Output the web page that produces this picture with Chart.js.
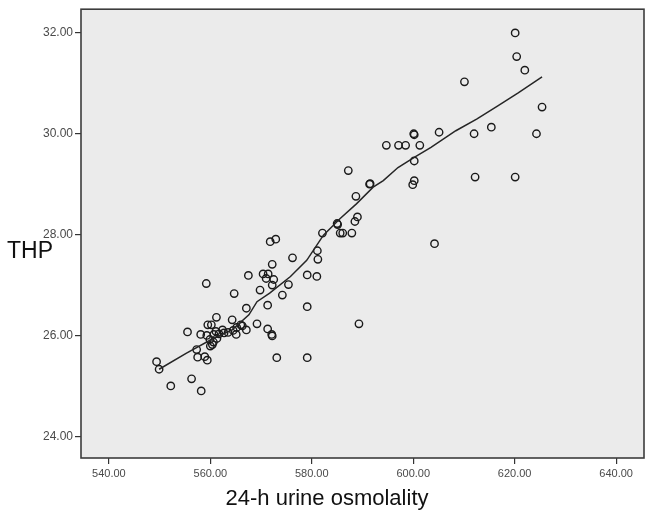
<!DOCTYPE html>
<html>
<head>
<meta charset="utf-8">
<script src="https://cdn.jsdelivr.net/npm/chart.js@4/dist/chart.umd.min.js"></script>
<style>
html,body{margin:0;padding:0;background:#fff;}
#wrap{width:650px;height:517px;position:relative;}
</style>
</head>
<body>
<div id="wrap"><canvas id="c" width="650" height="517"></canvas></div>
<script>
// ---- data ----
const osmolality = [549.4,549.9,552.2,555.5,556.3,558.2,557.3,557.5,558.9,559.4,559.2,558.1,559.5,560.2,561.2,559.3,559.9,560.0,560.6,560.4,561.3,560.7,561.1,561.7,562.4,562.7,563.5,564.3,564.5,564.7,565.1,565.2,566.0,566.3,567.1,567.1,567.5,569.2,569.8,570.4,571.0,571.4,571.3,571.3,571.8,572.9,572.2,572.5,572.2,572.1,572.2,573.1,574.2,575.4,576.2,579.1,579.1,579.1,581.0,581.1,581.2,582.1,585.0,585.1,585.6,586.1,587.9,588.5,589.0,588.7,587.2,589.3,591.4,591.5,594.7,597.1,598.5,601.3,600.1,600.2,600.2,600.2,599.9,604.2,605.1,610.1,612.0,612.2,615.4,620.1,620.4,622.0,620.1,624.3,625.4];
const thp = [25.48,25.33,25.00,26.07,25.14,24.90,25.72,25.57,25.58,25.51,27.03,26.02,26.21,26.21,26.36,26.00,25.92,25.79,25.87,25.82,25.94,26.02,26.08,26.03,26.11,26.05,26.06,26.31,26.10,26.83,26.02,26.16,26.21,26.19,26.54,26.11,27.19,26.23,26.90,27.22,27.13,27.22,26.60,26.13,27.86,27.91,27.41,27.11,27.00,26.02,25.99,25.56,26.80,27.01,27.54,26.57,27.20,25.56,27.17,27.68,27.51,28.03,28.22,28.20,28.03,28.03,28.03,28.26,28.35,28.76,29.27,26.23,29.00,29.01,29.77,29.77,29.77,29.77,30.00,29.98,29.46,29.07,28.99,27.82,30.03,31.03,30.00,29.14,30.13,32.00,31.53,31.26,29.14,30.00,30.53];
const fitX = [549.9,555.3,560.2,564.3,567.6,569.2,571.7,575.8,579.0,582.3,585.6,588.8,592.1,594.1,597.0,600.2,603.5,608.4,612.5,616.6,620.7,625.4];
const fitY = [25.33,25.65,25.92,26.11,26.41,26.67,26.84,27.17,27.49,27.99,28.32,28.61,28.94,29.07,29.33,29.53,29.73,30.06,30.29,30.55,30.81,31.13];
const xTickValues = [540,560,580,600,620,640];
const yTickValues = [24,26,28,30,32];
const xTitle = '24-h urine osmolality';
const yTitle = 'THP';

const FONT = "'Liberation Sans', Arial, sans-serif";

const points = osmolality.map((x,i)=>({x:x, y:thp[i]}));
const fit = fitX.map((x,i)=>({x:x, y:fitY[i]}));

const framePlugin = {
  id:'frame',
  beforeDraw(chart){
    const {ctx, chartArea:a} = chart;
    ctx.save();
    ctx.fillStyle = '#ffffff';
    ctx.fillRect(0,0,chart.width,chart.height);
    ctx.fillStyle = '#ebebeb';
    ctx.fillRect(a.left,a.top,a.right-a.left,a.bottom-a.top);
    ctx.restore();
  },
  afterDraw(chart){
    const {ctx, chartArea:a} = chart;
    ctx.save();
    ctx.strokeStyle = '#3c3c3c';
    ctx.lineWidth = 1.6;
    ctx.strokeRect(a.left,a.top,a.right-a.left,a.bottom-a.top);
    ctx.fillStyle = '#111';
    ctx.font = '22px ' + FONT;
    ctx.textAlign = 'center';
    ctx.textBaseline = 'alphabetic';
    ctx.fillText(xTitle, 327, 505);
    ctx.font = '23px ' + FONT;
    ctx.textAlign = 'left';
    ctx.textBaseline = 'middle';
    ctx.fillText(yTitle, 7, 252);
    ctx.restore();
  }
};

new Chart(document.getElementById('c'), {
  type:'scatter',
  data:{
    datasets:[
      {
        type:'line',
        data:fit,
        borderColor:'#262626',
        borderWidth:1.5,
        pointRadius:0,
        fill:false,
        tension:0
      },
      {
        type:'scatter',
        data:points,
        pointStyle:'circle',
        pointRadius:3.7,
        borderColor:'#1a1a1a',
        borderWidth:1.4,
        backgroundColor:'rgba(0,0,0,0)'
      }
    ]
  },
  options:{
    responsive:false,
    animation:false,
    events:[],
    layout:{padding:{left:0,right:6,top:7,bottom:0}},
    plugins:{legend:{display:false},tooltip:{enabled:false},title:{display:false}},
    scales:{
      x:{
        type:'linear',
        min:534.5, max:645.5,
        afterBuildTicks(s){ s.ticks = xTickValues.map(v=>({value:v})); },
        afterFit(s){ s.height = 59; },
        border:{display:false},
        grid:{display:true, drawOnChartArea:false, drawTicks:true, tickLength:6, color:'#333', lineWidth:1.2},
        ticks:{
          color:'#4a4a4a', padding:3, maxRotation:0, autoSkip:false,
          font:{family:FONT, size:11},
          callback:(v)=>Number(v).toFixed(2)
        }
      },
      y:{
        type:'linear',
        min:23.57, max:32.47,
        afterBuildTicks(s){ s.ticks = yTickValues.map(v=>({value:v})); },
        afterFit(s){ s.width = 81; },
        border:{display:false},
        grid:{display:true, drawOnChartArea:false, drawTicks:true, tickLength:6, color:'#333', lineWidth:1.2},
        ticks:{
          color:'#4a4a4a', padding:2, autoSkip:false,
          font:{family:FONT, size:12},
          callback:(v)=>Number(v).toFixed(2)
        }
      }
    }
  },
  plugins:[framePlugin]
});
</script>
</body>
</html>
